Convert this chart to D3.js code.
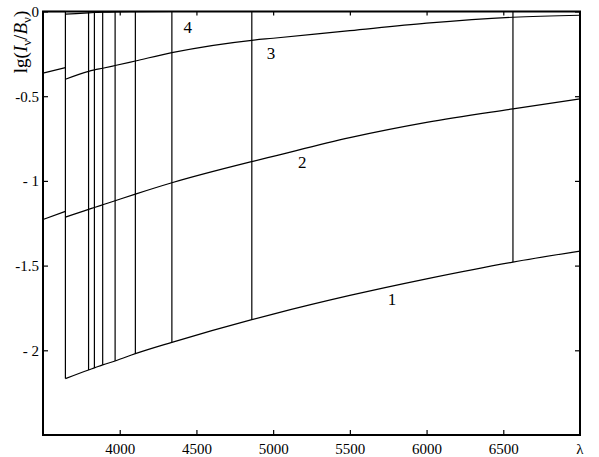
<!DOCTYPE html>
<html>
<head>
<meta charset="utf-8">
<script src="https://cdn.jsdelivr.net/npm/d3@7"></script>
<style>
  body { margin: 0; background: #fff; }
  svg text { font-family: "Liberation Serif", "Times New Roman", serif; }
</style>
</head>
<body>
<svg width="599" height="457"></svg>
<script>
// wavelengths (A) for the part left of the Balmer jump and right of it
var lamLeft = [3500, 3646];
var lamRight = [3646, 3797, 3835, 3889, 3970, 4102, 4340, 4861, 5000, 5500, 6000, 6563, 7000];

// lg(I/B) for curves 1..4
var c1Right = [-2.167, -2.116, -2.104, -2.086, -2.063, -2.020, -1.953, -1.819, -1.786, -1.676, -1.578, -1.479, -1.414];
var c2Left = [-1.228, -1.180];
var c2Right = [-1.214, -1.168, -1.157, -1.141, -1.117, -1.078, -1.011, -0.886, -0.855, -0.745, -0.655, -0.575, -0.516];
var c3Left = [-0.364, -0.331];
var c3Right = [-0.400, -0.353, -0.345, -0.335, -0.319, -0.292, -0.243, -0.170, -0.158, -0.113, -0.069, -0.034, -0.022];
var c4Left = [0, 0];
var c4Right = [-0.016, -0.008, -0.006, -0.004, -0.002, -0.001, 0, 0, 0, 0, 0, 0, 0];

// Balmer jump + lines
var balmer = [3646, 3797, 3835, 3889, 3970, 4102, 4340, 4861, 6563];

var xTicks = [4000, 4500, 5000, 5500, 6000, 6500];
var yTicks = [0, -0.5, -1, -1.5, -2];
var yTickLabels = ["0", "-0.5", "- 1", "-1.5", "- 2"];

var curveNames = ["1", "2", "3", "4"];
var nameLam = [5775, 5190, 4986, 4443];
var nameVal = [-1.70, -0.886, -0.246, -0.090];

var svg = d3.select("svg");

var x = d3.scaleLinear().domain([3500, 7000]).range([43, 580]);
var y = d3.scaleLinear().domain([-2.5, 0]).range([435, 11.5]);

var line = d3.line()
    .x(function(d) { return x(d[0]); })
    .y(function(d) { return y(d[1]); })
    .curve(d3.curveMonotoneX);

function pairs(lams, vals) {
    return lams.map(function(l, i) { return [l, vals[i]]; });
}

var segments = [
    pairs(lamRight, c1Right),
    pairs(lamLeft, c2Left), pairs(lamRight, c2Right),
    pairs(lamLeft, c3Left), pairs(lamRight, c3Right),
    pairs(lamLeft, c4Left), pairs(lamRight, c4Right)
];

var g = svg.append("g");

g.selectAll("path.curve")
    .data(segments)
    .enter().append("path")
    .attr("class", "curve")
    .attr("d", line)
    .attr("fill", "none")
    .attr("stroke", "#000")
    .attr("stroke-width", 1.2);

// vertical lines from curve 1 up to the top
g.selectAll("line.balmer")
    .data(balmer)
    .enter().append("line")
    .attr("class", "balmer")
    .attr("x1", function(d) { return x(d); })
    .attr("x2", function(d) { return x(d); })
    .attr("y1", function(d) { return y(c1Right[lamRight.indexOf(d)]); })
    .attr("y2", y(0))
    .attr("stroke", "#000")
    .attr("stroke-width", 1.2);

// curve numbers
g.selectAll("text.name")
    .data(curveNames)
    .enter().append("text")
    .attr("class", "name")
    .attr("x", function(d, i) { return x(nameLam[i]); })
    .attr("y", function(d, i) { return y(nameVal[i]); })
    .attr("dy", "0.35em")
    .attr("text-anchor", "middle")
    .style("font-size", "17px")
    .text(function(d) { return d; });

// axes, ticks pointing inwards on all four sides
var axBottom = svg.append("g")
    .attr("transform", "translate(0," + y(-2.5) + ")")
    .call(d3.axisBottom(x).tickValues(xTicks).tickSize(-5).tickSizeOuter(0).tickPadding(8)
        .tickFormat(d3.format("d")));
var axTop = svg.append("g")
    .attr("transform", "translate(0," + y(0) + ")")
    .call(d3.axisTop(x).tickValues(xTicks).tickSize(-4).tickSizeOuter(0).tickFormat(""));
var axLeft = svg.append("g")
    .attr("transform", "translate(" + x(3500) + ",0)")
    .call(d3.axisLeft(y).tickValues(yTicks).tickSize(-5).tickSizeOuter(0).tickPadding(4)
        .tickFormat(function(d, i) { return yTickLabels[i]; }));
var axRight = svg.append("g")
    .attr("transform", "translate(" + x(7000) + ",0)")
    .call(d3.axisRight(y).tickValues(yTicks).tickSize(-5).tickSizeOuter(0).tickFormat(""));

[axBottom, axTop, axLeft, axRight].forEach(function(a) {
    a.attr("font-family", null).attr("font-size", null);
    a.select(".domain").remove();
    a.selectAll(".tick line").attr("stroke", "#000").attr("stroke-width", 1.2);
    a.selectAll("text").style("font-size", "15px").attr("fill", "#000");
});

svg.append("rect")
    .attr("x", x(3500))
    .attr("y", y(0))
    .attr("width", x(7000) - x(3500))
    .attr("height", y(-2.5) - y(0))
    .attr("fill", "none")
    .attr("stroke", "#000")
    .attr("stroke-width", 2);

// lambda at the end of x axis
svg.append("text")
    .attr("x", x(7000))
    .attr("y", y(-2.5) + 8)
    .attr("dy", "0.71em")
    .attr("text-anchor", "middle")
    .style("font-size", "15px")
    .text("λ");

// y axis title lg(I_nu / B_nu)
var yl = svg.append("text")
    .attr("transform", "translate(27,42) rotate(-90)")
    .attr("text-anchor", "middle")
    .style("font-size", "19px");
yl.append("tspan").text("lg(");
yl.append("tspan").style("font-style", "italic").text("I");
yl.append("tspan").attr("dy", 4).style("font-size", "13px").text("ν");
yl.append("tspan").attr("dy", -4).text("/");
yl.append("tspan").style("font-style", "italic").text("B");
yl.append("tspan").attr("dy", 4).style("font-size", "13px").text("ν");
yl.append("tspan").attr("dy", -4).text(")");
</script>
</body>
</html>
